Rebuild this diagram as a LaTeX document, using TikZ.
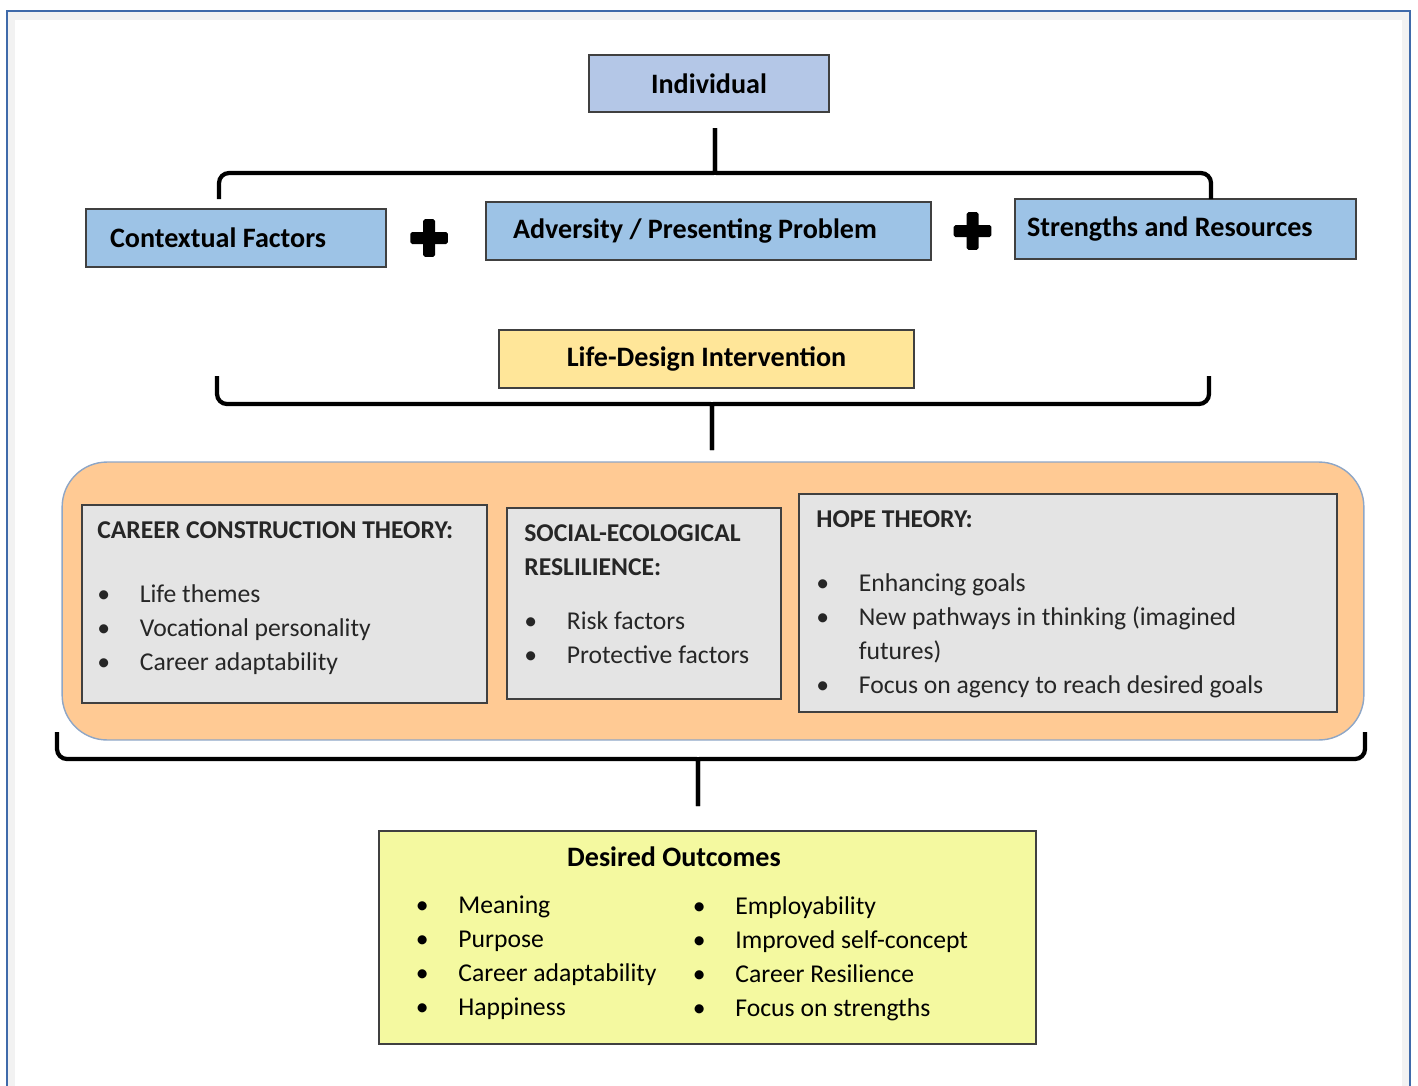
\documentclass[tikz,border=0pt]{standalone}
\usepackage{fontspec}
\setmainfont{Carlito}
\usetikzlibrary{positioning}
\definecolor{framebl}{HTML}{3F6AAA}
\definecolor{indivblue}{HTML}{B4C7E7}
\definecolor{factorblue}{HTML}{9DC3E6}
\definecolor{lifegold}{HTML}{FFE699}
\definecolor{theorypeach}{HTML}{FFCA94}
\definecolor{theoryedge}{HTML}{8EA6C6}
\definecolor{theorygray}{HTML}{E4E4E4}
\definecolor{outyellow}{HTML}{F4F9A0}
\newcommand{\bul}{\makebox[0.85cm][l]{\textbullet}}

\begin{document}
\begin{tikzpicture}[x=0.02cm,y=-0.02cm,
    box/.style={draw=black!75,line width=0.9pt,inner sep=0pt,font=\fontsize{16}{19}\selectfont\bfseries},
    factor/.style={box,fill=factorblue,minimum height=1.16cm,align=flush left},
    theory/.style={draw=black!75,line width=0.9pt,fill=theorygray},
    itemtext/.style={inner sep=0pt,anchor=base west,text=black!85,font=\fontsize{14.6}{19.4}\selectfont},
    brace/.style={line width=2.4pt,rounded corners=0.2cm},
    plus/.style={minimum size=0.74cm,inner sep=0pt}]

  % page frame
  \useasboundingbox (0,0) rectangle (1418,1086);
  \draw[black!5,line width=5pt] (11,1100) |- (1406,16) -- (1406,1100);
  \draw[framebl,line width=1.4pt] (7,1100) |- (1410,11) -- (1410,1100);

  % individual and the three factors
  \node[box,fill=indivblue,minimum width=4.8cm,minimum height=1.14cm] (indiv) at (709,83.5) {Individual};
  \node[factor,inner xsep=0.48cm,text width=5.04cm] (ctx) at (236,238) {Contextual Factors};
  \node[factor,inner xsep=0.54cm,text width=7.82cm] (adv) at (708.5,231) {Adversity / Presenting Problem};
  \node[factor,inner xsep=0.24cm,text width=6.34cm,minimum height=1.2cm] (str) at (1185.5,229) {Strengths and Resources};
  \node[plus,right=0.47cm of ctx] (plusA) {};
  \node[plus,right=0.44cm of adv] (plusB) {};
  \foreach \p in {plusA,plusB} {
    \fill[rounded corners=1pt] ([yshift=-0.12cm]\p.west) rectangle ([yshift=0.12cm]\p.east);
    \fill[rounded corners=1pt] ([xshift=-0.12cm]\p.south) rectangle ([xshift=0.12cm]\p.north);
  }

  \coordinate (b1L) at (219,199);
  \coordinate (b1R) at (1211,199);
  \coordinate (b1M) at (715,173);
  \coordinate (b1T) at (715,128);
  \draw[brace] (b1T) -- ([yshift=0.24cm]b1M) .. controls (b1M) .. ([xshift=-0.24cm]b1M) -| (b1L);
  \draw[brace] (b1T) -- ([yshift=0.24cm]b1M) .. controls (b1M) .. ([xshift=0.24cm]b1M) -| (b1R);

  % intervention
  \node[box,fill=lifegold,minimum width=8.3cm,minimum height=1.16cm] (life) at (706.5,359) {Life-Design Intervention};

  \coordinate (b2L) at (217,376);
  \coordinate (b2R) at (1209,376);
  \coordinate (b2M) at (712,404);
  \coordinate (b2B) at (712,450);
  \draw[brace] (b2B) -- ([yshift=-0.24cm]b2M) .. controls (b2M) .. ([xshift=-0.24cm]b2M) -| (b2L);
  \draw[brace] (b2B) -- ([yshift=-0.24cm]b2M) .. controls (b2M) .. ([xshift=0.24cm]b2M) -| (b2R);

  % theories
  \node[draw=theoryedge,line width=0.8pt,fill=theorypeach,rounded corners=0.9cm,minimum width=26.04cm,minimum height=5.56cm] (theories) at (713,601) {};
  \node[theory,minimum width=8.1cm,minimum height=3.96cm] (cct) at (284.5,604) {};
  \node[theory,minimum width=5.48cm,minimum height=3.82cm] (ser) at (644,603.5) {};
  \node[theory,minimum width=10.76cm,minimum height=4.36cm] (hope) at (1068,603) {};

  \node[itemtext] (cctList) at (97,538) {\begin{tabular}[t]{@{}l@{}}
    \textbf{CAREER CONSTRUCTION THEORY:}\\[0.61cm]
    \bul Life themes\\
    \bul Vocational personality\\
    \bul Career adaptability
  \end{tabular}};
  \node[itemtext] (serList) at (524,541) {\begin{tabular}[t]{@{}l@{}}
    \textbf{SOCIAL-ECOLOGICAL}\\
    \textbf{RESLILIENCE:}\\[0.4cm]
    \bul Risk factors\\
    \bul Protective factors
  \end{tabular}};
  \node[itemtext] (hopeList) at (816,527) {\begin{tabular}[t]{@{}l@{}}
    \textbf{HOPE THEORY:}\\[0.61cm]
    \bul Enhancing goals\\
    \bul New pathways in thinking (imagined\\
    \hspace*{0.85cm}futures)\\
    \bul Focus on agency to reach desired goals
  \end{tabular}};

  \coordinate (b3L) at (57,732);
  \coordinate (b3R) at (1365,732);
  \coordinate (b3M) at (698,759);
  \coordinate (b3B) at (698,806);
  \draw[brace] (b3B) -- ([yshift=-0.24cm]b3M) .. controls (b3M) .. ([xshift=-0.24cm]b3M) -| (b3L);
  \draw[brace] (b3B) -- ([yshift=-0.24cm]b3M) .. controls (b3M) .. ([xshift=0.24cm]b3M) -| (b3R);

  % outcomes
  \node[box,fill=outyellow,minimum width=13.14cm,minimum height=4.26cm] (out) at (707.5,937.5) {};
  \node[inner sep=0pt,anchor=base,font=\fontsize{16}{19}\selectfont\bfseries] (outT) at (674,866) {Desired Outcomes};
  \node[itemtext,text=black] (outL) at (415.6,913) {\begin{tabular}[t]{@{}l@{}}
    \bul Meaning\\
    \bul Purpose\\
    \bul Career adaptability\\
    \bul Happiness
  \end{tabular}};
  \node[itemtext,text=black] (outR) at (692.6,914) {\begin{tabular}[t]{@{}l@{}}
    \bul Employability\\
    \bul Improved self-concept\\
    \bul Career Resilience\\
    \bul Focus on strengths
  \end{tabular}};
\end{tikzpicture}
\end{document}
